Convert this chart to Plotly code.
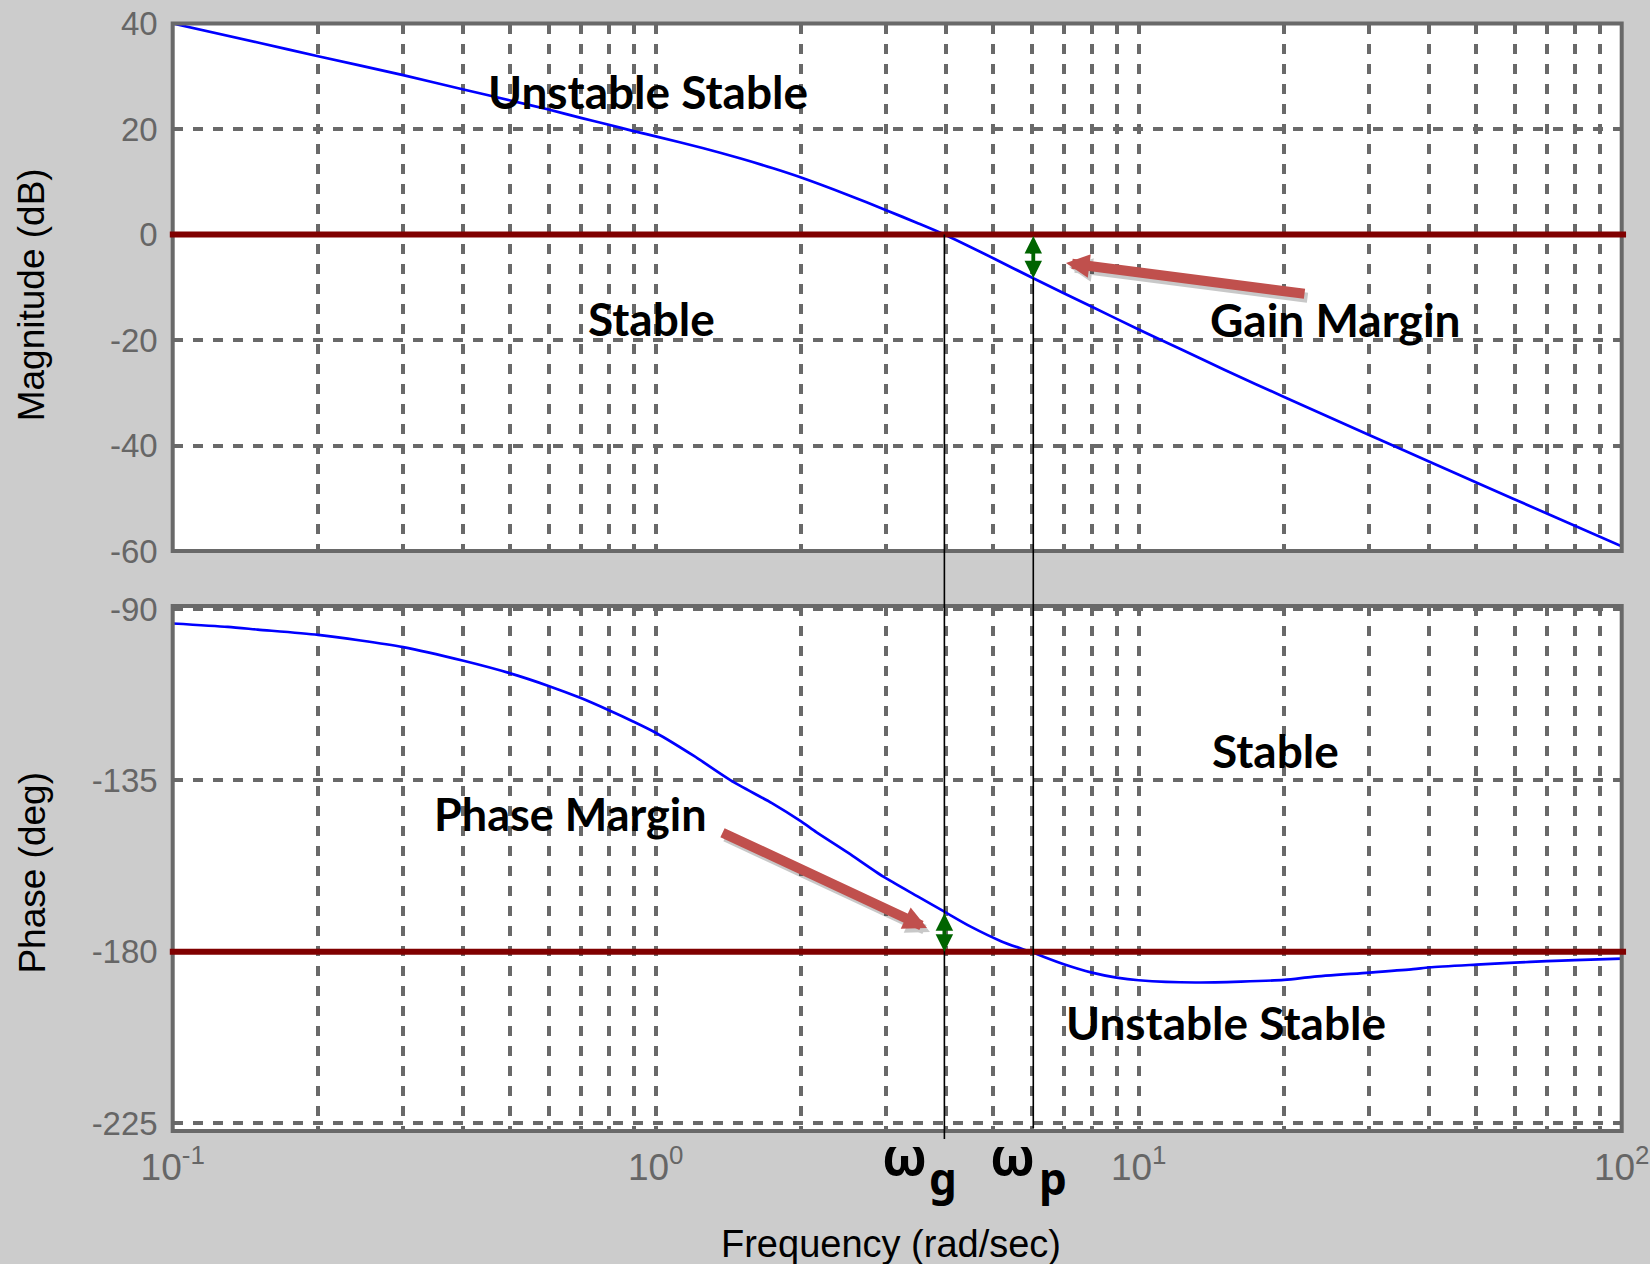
import numpy as np
import plotly.graph_objects as go

W, H = 1650, 1264

# ---------------- data ----------------
mag_freq = [0.1, 0.15, 0.2, 0.3, 0.4, 0.5, 0.6, 0.7, 0.8, 0.9, 1.0, 1.25, 1.5, 1.75,
            2.0, 2.5, 3.0, 3.5, 3.96, 5.0, 6.05, 8.0, 10.0, 12.2, 15.0, 20.0, 30.0,
            40.0, 50.0, 70.0, 100.0]
mag_db = [40.0, 36.4, 33.8, 30.2, 27.5, 25.4, 23.7, 22.1, 20.8, 19.6, 18.6, 16.4,
          14.4, 12.55, 10.8, 7.5, 4.6, 2.1, 0.0, -4.5, -8.3, -13.7, -18.0, -21.7,
          -25.6, -30.8, -38.0, -43.1, -47.0, -52.9, -59.1]

phase_freq = [0.1, 0.13, 0.15, 0.2, 0.3, 0.4, 0.5, 0.6, 0.7, 0.8, 0.9, 1.0, 1.2,
              1.43, 1.74, 2.0, 2.15, 2.5, 2.96, 3.5, 3.96, 4.5, 5.2, 6.05, 7.0, 8.0,
              9.0, 10.0, 13.1, 20.0, 22.9, 30.0, 37.0, 40.0, 50.0, 60.0, 70.0, 80.0,
              100.0]
phase_deg = [-93.8, -94.7, -95.4, -96.8, -100.0, -103.6, -106.9, -110.2, -113.4,
             -116.6, -119.6, -122.5, -128.6, -135.0, -141.0, -145.8, -148.6, -154.0,
             -160.3, -165.6, -169.5, -173.5, -177.3, -180.3, -183.3, -185.5, -186.8,
             -187.5, -188.1, -187.4, -186.6, -185.5, -184.6, -184.1, -183.4, -182.9,
             -182.5, -182.2, -181.8]

omega_g = 3.96          # gain crossover frequency
omega_p = 6.05          # phase crossover frequency
mag_at_wp = -8.3        # magnitude at omega_p (dB)
phase_at_wg = -169.5    # phase at omega_g (deg)

mag_ticks = [-60, -40, -20, 0, 20, 40]
mag_tick_labels = ["-60", "-40", "-20", "0", "20", "40"]
phase_ticks = [-225, -180, -135, -90]
phase_tick_labels = ["-225", "-180", "-135", "-90"]
decade_ticks = [0.1, 1.0, 10.0, 100.0]
decade_labels = ["10<sup>-1</sup>", "10<sup>0</sup>", "10<sup>1</sup>", "10<sup>2</sup>"]

# ---------------- layout geometry ----------------
def px(x):
    return x / W

def py(y):
    return 1 - y / H

X_DOM = [px(172.7), px(1621.7)]
TOP_DOM = [py(551), py(23.5)]
BOT_DOM = [py(1131), py(606)]
TOP_RANGE = [-60, 40]
BOT_RANGE = [-227.1, -89.21]
X_RANGE = [-1, 2]

def x_paper(w):
    return X_DOM[0] + (np.log10(w) - X_RANGE[0]) / (X_RANGE[1] - X_RANGE[0]) * (X_DOM[1] - X_DOM[0])

def y_paper(v, dom, rng):
    return dom[0] + (v - rng[0]) / (rng[1] - rng[0]) * (dom[1] - dom[0])

grid_freqs = [m * 10.0 ** e for e in (-1, 0, 1) for m in range(1, 10)] + [100.0]
grid_text = [decade_labels[decade_ticks.index(f)] if f in decade_ticks else "" for f in grid_freqs]

GRID = "#696969"
TICKFONT = dict(family="Liberation Sans, Arial, sans-serif", size=33, color="#666666")

common_axis = dict(showgrid=True, gridcolor=GRID, gridwidth=4, griddash="10px,10px",
                   zeroline=False, showline=False, ticks="", automargin=False)

CURVE = dict(color="#0000ff", width=2.7, shape="spline", smoothing=0.7)

fig = go.Figure()
fig.add_trace(go.Scatter(x=mag_freq, y=mag_db, mode="lines", xaxis="x", yaxis="y",
                         line=CURVE, showlegend=False, hoverinfo="skip"))
fig.add_trace(go.Scatter(x=phase_freq, y=phase_deg, mode="lines", xaxis="x2", yaxis="y2",
                         line=CURVE, showlegend=False, hoverinfo="skip"))

fig.update_layout(
    width=W, height=H,
    margin=dict(l=0, r=0, t=0, b=0, pad=0),
    paper_bgcolor="#cccccc", plot_bgcolor="white",
    showlegend=False,
    xaxis=dict(common_axis, type="log", range=X_RANGE, domain=X_DOM, anchor="y",
               tickvals=grid_freqs, showticklabels=False),
    yaxis=dict(common_axis, range=TOP_RANGE, domain=TOP_DOM, anchor="x",
               tickvals=mag_ticks, ticktext=mag_tick_labels, tickfont=TICKFONT,
               ticklabelstandoff=14),
    xaxis2=dict(common_axis, type="log", range=X_RANGE, domain=X_DOM, anchor="y2",
                tickvals=grid_freqs, ticktext=grid_text,
                tickfont=dict(TICKFONT, size=37), ticklabelstandoff=11),
    yaxis2=dict(common_axis, range=BOT_RANGE, domain=BOT_DOM, anchor="x2",
                tickvals=phase_ticks, ticktext=phase_tick_labels, tickfont=TICKFONT,
                ticklabelstandoff=14),
)

shapes = []
# frames
for xr, yr in (("x domain", "y domain"), ("x2 domain", "y2 domain")):
    shapes.append(dict(type="rect", xref=xr, yref=yr, x0=0, x1=1, y0=0, y1=1,
                       line=dict(color=GRID, width=4), fillcolor="rgba(0,0,0,0)",
                       layer="above"))
# 0 dB and -180 deg reference lines
shapes.append(dict(type="line", xref="x domain", yref="y", x0=-0.002, x1=1.003, y0=0, y1=0,
                   line=dict(color="#800000", width=6), layer="above"))
shapes.append(dict(type="line", xref="x2 domain", yref="y2", x0=-0.002, x1=1.003,
                   y0=-180, y1=-180, line=dict(color="#800000", width=6), layer="above"))
# crossover verticals
shapes.append(dict(type="line", xref="paper", yref="paper",
                   x0=x_paper(omega_g), x1=x_paper(omega_g),
                   y0=y_paper(0, TOP_DOM, TOP_RANGE), y1=py(1139),
                   line=dict(color="black", width=1.6), layer="above"))
shapes.append(dict(type="line", xref="paper", yref="paper",
                   x0=x_paper(omega_p), x1=x_paper(omega_p),
                   y0=y_paper(mag_at_wp, TOP_DOM, TOP_RANGE), y1=py(1128),
                   line=dict(color="black", width=1.6), layer="above"))
fig.update_layout(shapes=shapes)

ann = []
LABEL_FONT = dict(family="Lato, Carlito, Calibri, sans-serif", size=46, color="black")

def label(text, x, y, size=None):
    f = dict(LABEL_FONT)
    if size:
        f["size"] = size
    ann.append(dict(text="<b>%s</b>" % text, x=px(x), y=py(y), xref="paper", yref="paper",
                    showarrow=False, xanchor="center", yanchor="middle", font=f))

label("Unstable Stable", 648, 92)
label("Stable", 651, 318)
label("Gain Margin", 1335, 319)
label("Stable", 1275, 750)
label("Phase Margin", 570, 814, size=45)
label("Unstable Stable", 1226, 1022)

GREEK = dict(family="Noto Sans, DejaVu Sans, sans-serif", color="black")
for cx, sub, sx in ((904, "g", 943), (1013, "p", 1052.5)):
    ann.append(dict(text="<b>ω</b>", x=px(cx), y=py(1154), xref="paper", yref="paper",
                    showarrow=False, xanchor="center", yanchor="middle",
                    font=dict(GREEK, size=52)))
    ann.append(dict(text="<b>%s</b>" % sub, x=px(sx), y=py(1178), xref="paper", yref="paper",
                    showarrow=False, xanchor="center", yanchor="middle",
                    font=dict(GREEK, size=44)))

# axis titles
AXFONT = dict(family="Liberation Sans, Arial, sans-serif", size=37, color="black")
ann.append(dict(text="Magnitude (dB)", x=px(31.6), y=py(294.7), xref="paper", yref="paper",
                showarrow=False, textangle=-90, xanchor="center", yanchor="middle", font=AXFONT))
ann.append(dict(text="Phase (deg)", x=px(31.6), y=py(873), xref="paper", yref="paper",
                showarrow=False, textangle=-90, xanchor="center", yanchor="middle", font=AXFONT))
ann.append(dict(text="Frequency (rad/sec)", x=px(891), y=py(1244), xref="paper", yref="paper",
                showarrow=False, xanchor="center", yanchor="middle",
                font=dict(AXFONT, size=38)))

# red pointer arrows (with soft shadow)
def red_arrow(tip, tail):
    for dx, dy, col in ((3, 4, "rgba(60,60,60,0.28)"), (0, 0, "#c0504d")):
        ann.append(dict(text="", x=px(tip[0] + dx), y=py(tip[1] + dy), xref="paper",
                        yref="paper", axref="pixel", ayref="pixel",
                        ax=tail[0] - tip[0], ay=tail[1] - tip[1], showarrow=True,
                        arrowhead=2, arrowsize=0.47, arrowwidth=10, arrowcolor=col,
                        standoff=0))

red_arrow((1066, 263), (1306, 294))
red_arrow((927, 928), (721, 832))

# green double arrows showing the margins
def dbl_arrow(x_p, y_tip, y_tail):
    ann.append(dict(text="", x=x_p, y=y_tip, xref="paper", yref="paper",
                    axref="pixel", ayref="pixel", ax=0, ay=(y_tip - y_tail) * H,
                    showarrow=True, arrowhead=2, startarrowhead=2, arrowside="end+start",
                    arrowsize=0.92, startarrowsize=0.92, arrowwidth=3.8, arrowcolor="#006400",
                    standoff=0, startstandoff=0))

dbl_arrow(x_paper(omega_p), y_paper(mag_at_wp, TOP_DOM, TOP_RANGE), y_paper(0, TOP_DOM, TOP_RANGE))
dbl_arrow(x_paper(omega_g), y_paper(-180, BOT_DOM, BOT_RANGE), y_paper(phase_at_wg, BOT_DOM, BOT_RANGE))

fig.update_layout(annotations=ann)
fig.write_html("out.html")
